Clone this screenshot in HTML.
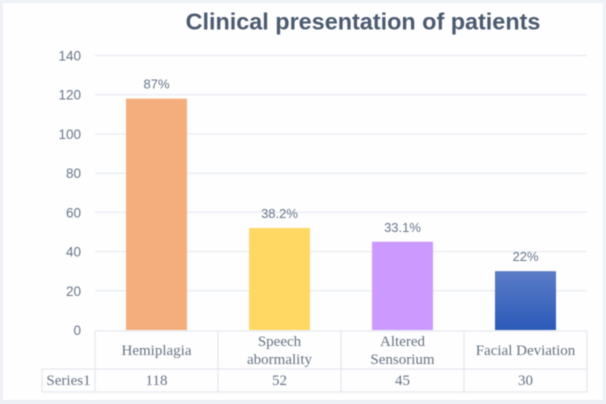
<!DOCTYPE html>
<html lang="en">
<head>
<meta charset="utf-8">
<title>Clinical presentation of patients</title>
<style>
html,body{margin:0;padding:0;background:#eef1f5;}
body{width:606px;height:404px;overflow:hidden;}
svg{display:block;filter:blur(0.6px);}
</style>
</head>
<body>
<svg id="chart" xmlns="http://www.w3.org/2000/svg" width="606" height="404" viewBox="0 0 606 404">
<defs>
<linearGradient id="blue-gradient" x1="0" y1="0" x2="0" y2="1">
<stop offset="0" stop-color="#5b7cc8"/>
<stop offset="1" stop-color="#2b5ab8"/>
</linearGradient>
</defs>
<rect x="3" y="3" width="600" height="397" fill="#fefefe"/>
<text x="363" y="29.5" text-anchor="middle" font-family="'Liberation Sans',sans-serif" font-weight="700" font-size="23.4" fill="#4b5a70">Clinical presentation of patients</text>
<g id="grid"></g>
<g id="y-ticks"></g>
<g id="bars"></g>
<g id="value-labels"></g>
<g id="table"></g>
</svg>
<script>
const categories = [["Hemiplagia"], ["Speech", "abormality"], ["Altered", "Sensorium"], ["Facial Deviation"]];
const seriesName = "Series1";
const seriesValues = [118, 52, 45, 30];
const valueLabels = ["87%", "38.2%", "33.1%", "22%"];
const barColors = ["#f4ae7e", "#ffd763", "#cc99ff", "url(#blue-gradient)"];
const yTicks = [0, 20, 40, 60, 80, 100, 120, 140];

const SVG_NS = "http://www.w3.org/2000/svg";
const plotLeft = 95, plotRight = 587, plotBottom = 330, plotTop = 55.5, yMax = 140;
const rowTop = 331, rowMid = 369, rowBottom = 392, seriesLeft = 42;
const barWidth = 61;
const sans = "'Liberation Sans',sans-serif", serif = "'Liberation Serif',serif";

function yScale(v) { return plotBottom - (v / yMax) * (plotBottom - plotTop); }
function bandWidth() { return (plotRight - plotLeft) / categories.length; }
function xCenter(i) { return plotLeft + bandWidth() * (i + 0.5); }
function make(tag, attrs, text) {
  const el = document.createElementNS(SVG_NS, tag);
  for (const k in attrs) el.setAttribute(k, attrs[k]);
  if (text !== undefined) el.textContent = text;
  return el;
}

const grid = document.getElementById("grid");
const tickGroup = document.getElementById("y-ticks");
yTicks.forEach(function (t) {
  if (t !== 0) {
    const line = make("line", { x1: plotLeft, x2: plotRight, y1: yScale(t), y2: yScale(t), stroke: "#e9edf3", "stroke-width": 1.4 });
    
    
    grid.appendChild(line);
  }
  const label = make("text", { x: 81, y: yScale(t) + 5, "text-anchor": "end", "font-family": sans, "font-size": 13.5, fill: "#67758a" }, t);
  
  
  tickGroup.appendChild(label);
});

const barGroup = document.getElementById("bars");
const labelGroup = document.getElementById("value-labels");
seriesValues.forEach(function (v, i) {
  const bar = make("rect", { x: xCenter(i) - barWidth / 2, y: yScale(v), width: barWidth, height: plotBottom - yScale(v), fill: barColors[i] });
  
  
  barGroup.appendChild(bar);
  const lab = make("text", { x: xCenter(i), y: yScale(v) - 10, "text-anchor": "middle", "font-family": sans, "font-size": 13, fill: "#67758a" }, valueLabels[i]);
  
  
  labelGroup.appendChild(lab);
});

const table = document.getElementById("table");
function tableLine(x1, y1, x2, y2) {
  const l = make("line", { x1: x1, y1: y1, x2: x2, y2: y2, stroke: "#e4e8ee", "stroke-width": 1.3 });
  
  
  table.appendChild(l);
}
tableLine(plotLeft, rowTop, plotRight, rowTop);
tableLine(seriesLeft, rowMid, plotRight, rowMid);
tableLine(seriesLeft, rowBottom, plotRight, rowBottom);
tableLine(seriesLeft, rowMid, seriesLeft, rowBottom);
for (let i = 0; i <= categories.length; i++) {
  const x = plotLeft + bandWidth() * i;
  tableLine(x, rowTop, x, rowBottom);
}
const seriesLabel = make("text", { x: 68.5, y: rowMid + 16, "text-anchor": "middle", "font-family": serif, "font-size": 15, fill: "#667283" }, seriesName);


table.appendChild(seriesLabel);
categories.forEach(function (lines, i) {
  const startY = lines.length === 1 ? 355 : 346;
  lines.forEach(function (txt, j) {
    const c = make("text", { x: xCenter(i), y: startY + j * 18, "text-anchor": "middle", "font-family": serif, "font-size": 15, fill: "#667283" }, txt);
    
    
    table.appendChild(c);
  });
  const val = make("text", { x: xCenter(i), y: rowMid + 16, "text-anchor": "middle", "font-family": serif, "font-size": 15, fill: "#667283" }, seriesValues[i]);
  
  
  table.appendChild(val);
});
</script>
</body>
</html>
